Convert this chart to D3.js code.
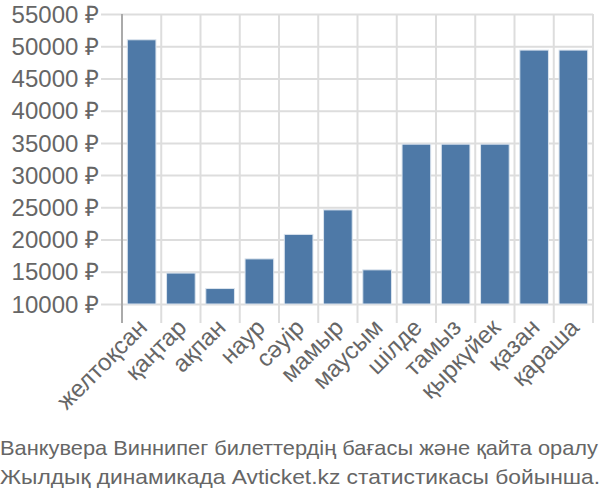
<!DOCTYPE html>
<html><head><meta charset="utf-8">
<script src="https://cdn.jsdelivr.net/npm/d3@7"></script>
<style>body{margin:0;background:#fff}svg{display:block}text{font-family:"Liberation Sans",Arial,sans-serif;fill:#666}</style>
</head><body>
<script>
const categories = ["желтоқсан","қаңтар","ақпан","наур","сәуір","мамыр","маусым","шілде","тамыз","қыркүйек","қазан","қараша"];
const prices = [51000,14800,12400,17000,20800,24600,15300,34800,34800,34800,49400,49400];
const yTicks = [10000,15000,20000,25000,30000,35000,40000,45000,50000,55000];
const titleLines = ["Ванкувера Виннипег билеттердің бағасы және қайта оралу","Жылдық динамикада Avticket.kz статистикасы бойынша."];

(function(){
const W=600,H=500, mL=122, mR=593, mT=14, mB=304;
const svg=d3.select("body").append("svg").attr("width",W).attr("height",H);
const x=d3.scaleBand().domain(categories).range([mL,mR]).paddingInner(0.27).paddingOuter(0.135);
const y=d3.scaleLinear().domain([10000,55000]).range([mB,mT]);

const ya=svg.append("g").attr("transform",`translate(${mR},0)`)
  .call(d3.axisLeft(y).tickValues(yTicks).tickSize(mR-mL+21).tickPadding(2).tickFormat(d=>d+" ₽"));
ya.select(".domain").remove();
ya.selectAll("line").attr("stroke","#ddd").attr("stroke-width",2);
ya.selectAll("text").style("font-size","24px").attr("fill","#666").attr("dy","0.34em");

const xb=d3.scaleLinear().domain([0,12]).range([mL,mR]);
svg.append("g").selectAll("line").data(d3.range(13)).join("line")
  .attr("x1",d=>xb(d)).attr("x2",d=>xb(d)).attr("y1",mT).attr("y2",mB+19)
  .attr("stroke",d=>d===0?"#aaa":"#ddd").attr("stroke-width",2);

svg.append("g").selectAll("rect").data(prices).join("rect")
  .attr("x",(d,i)=>x(categories[i])).attr("width",x.bandwidth())
  .attr("y",d=>y(d)).attr("height",d=>y(10000)-y(d))
  .attr("fill","#4e79a7").attr("stroke","#dbe4ee").attr("stroke-width",1);

const xa=svg.append("g").attr("transform",`translate(0,${mB})`)
  .call(d3.axisBottom(x).tickSize(0).tickPadding(0));
xa.select(".domain").remove();
xa.selectAll("text").style("font-size","24px").attr("fill","#666")
  .attr("text-anchor","end").attr("dy",0)
  .attr("transform","translate(7,25) rotate(-45)");

svg.append("g").selectAll("text").data(titleLines).join("text")
  .attr("x",0).attr("y",(d,i)=>455+i*29)
  .attr("textLength",(d,i)=>i?600:598).attr("lengthAdjust","spacingAndGlyphs")
  .style("font-size","21px").text(d=>d);
})();
</script>
</body></html>
